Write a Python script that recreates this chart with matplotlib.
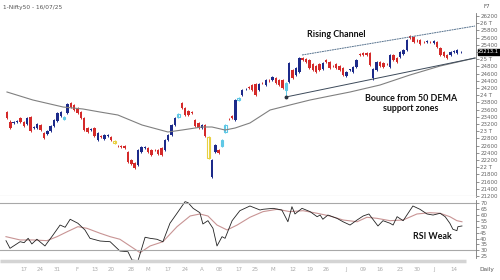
import matplotlib
matplotlib.use('Agg')
import matplotlib.pyplot as plt

# daily Nifty50 candles (open / high / low / close), oldest first
opens = [23530, 23260, 23230, 23260, 23370, 23260, 23200, 23390, 23090, 23090,
         23170, 22950, 22920, 23010, 23140, 23280, 23420, 23340, 23510, 23780,
         23730, 23640, 23530, 23370, 23090, 23030, 23090, 22760, 22870, 22780,
         22870, 22840, 22730, 22590, 22590, 22590, 22420, 22200, 22120, 22060,
         22420, 22530, 22530, 22480, 22480, 22480, 22530, 22480, 22760, 22890,
         23170, 23390, 23780, 23640, 23560, 23530, 23310, 23230, 23090, 23170,
         22840, 21730, 22420, 22480, 22590, 22980, 23340, 23420, 23310, 23870,
         24010, 24170, 24230, 24280, 24310, 24140, 24340, 24280, 24420, 24420,
         24480, 24420, 24420, 24140, 24370, 24700, 24560, 24640, 25030, 25010,
         24980, 24870, 24810, 24870, 24730, 24980, 24920, 24810, 24870, 24810,
         24760, 24530, 24700, 24640, 24780, 25140, 25170, 25170, 25170, 24480,
         24700, 24920, 24890, 24870, 24780, 25120, 25030, 25060, 25140, 25260,
         25640, 25620, 25530, 25530, 25480, 25480, 25480, 25450, 25480, 25310,
         25200, 25120, 25120, 25200, 25170, 25190]
closes = [23370, 23090, 23260, 23280, 23260, 23140, 23370, 23010, 23120, 23200,
          23030, 22810, 23010, 23140, 23310, 23510, 23530, 23390, 23760, 23670,
          23590, 23510, 23370, 23030, 22980, 23060, 22870, 22950, 22840, 22890,
          22880, 22760, 22670, 22580, 22560, 22530, 22140, 22090, 21980, 22480,
          22560, 22560, 22420, 22340, 22470, 22370, 22340, 22760, 22890, 23170,
          23370, 23480, 23640, 23450, 23450, 23510, 23140, 23090, 23170, 22870,
          22260, 22200, 22620, 22390, 22760, 23170, 23330, 23370, 23870, 23920,
          24140, 24180, 24200, 24140, 24010, 24310, 24330, 24420, 24410, 24510,
          24340, 24280, 24200, 24340, 24890, 24480, 24760, 25030, 24980, 24920,
          24760, 24700, 24640, 24700, 24890, 24920, 24760, 24800, 24760, 24700,
          24560, 24640, 24710, 24780, 24980, 25120, 25120, 25110, 24840, 24730,
          24920, 24810, 24780, 24860, 25120, 24980, 24920, 25200, 25260, 25530,
          25590, 25480, 25520, 25420, 25470, 25510, 25470, 25510, 25340, 25120,
          25090, 25030, 25200, 25220, 25250, 25213]
highs = [23560, 23300, 23290, 23310, 23400, 23290, 23400, 23420, 23150, 23230,
         23200, 22990, 23040, 23170, 23340, 23540, 23560, 23420, 23790, 23810,
         23760, 23670, 23560, 23400, 23120, 23090, 23120, 22980, 22900, 22920,
         22910, 22870, 22760, 22620, 22620, 22620, 22450, 22230, 22150, 22510,
         22590, 22590, 22560, 22510, 22510, 22510, 22560, 22790, 22920, 23200,
         23400, 23510, 23820, 23670, 23590, 23560, 23340, 23260, 23200, 23200,
         22870, 22230, 22650, 22510, 22790, 23200, 23370, 23450, 23900, 23950,
         24170, 24210, 24260, 24310, 24340, 24340, 24370, 24450, 24450, 24540,
         24510, 24450, 24450, 24370, 24920, 24730, 24790, 25060, 25060, 25040,
         25010, 24900, 24840, 24900, 24920, 25010, 24950, 24840, 24900, 24840,
         24790, 24670, 24740, 24810, 25010, 25170, 25200, 25200, 25200, 24760,
         24950, 24950, 24920, 24900, 25150, 25150, 25060, 25230, 25290, 25560,
         25670, 25650, 25560, 25560, 25510, 25540, 25510, 25540, 25510, 25340,
         25230, 25150, 25230, 25250, 25280, 25240]
lows = [23340, 23060, 23200, 23230, 23230, 23110, 23170, 22980, 23060, 23060,
        23000, 22780, 22890, 22980, 23110, 23250, 23390, 23310, 23480, 23640,
        23560, 23480, 23340, 23000, 22950, 23000, 22840, 22730, 22810, 22750,
        22840, 22730, 22640, 22550, 22530, 22500, 22110, 22060, 21950, 22030,
        22390, 22500, 22390, 22310, 22440, 22340, 22310, 22450, 22730, 22860,
        23140, 23360, 23610, 23420, 23420, 23480, 23110, 23060, 23060, 22840,
        22230, 21700, 22390, 22360, 22560, 22950, 23300, 23340, 23280, 23840,
        23980, 24140, 24170, 24110, 23980, 24110, 24300, 24250, 24380, 24390,
        24310, 24250, 24170, 23950, 24340, 24450, 24530, 24610, 24950, 24890,
        24730, 24670, 24610, 24670, 24700, 24890, 24730, 24770, 24730, 24670,
        24530, 24500, 24670, 24610, 24750, 25090, 25090, 25080, 24810, 24430,
        24670, 24780, 24750, 24830, 24750, 24950, 24890, 25030, 25110, 25230,
        25560, 25450, 25490, 25390, 25440, 25450, 25440, 25420, 25310, 25090,
        25060, 25000, 25090, 25180, 25140, 25160]
cyan_days = [17, 51, 64, 65, 69, 83]
yellow_days = [32, 60]
last_price = 25213.1

# 50 DEMA
dema_x = [0, 7.7, 16.7, 22.6, 27.7, 33, 40.2, 47.9, 52.1, 58, 61, 64.9, 67.9,
          72.3, 78.3, 84.2, 90.2, 96.1, 102.1, 111, 119.9, 128.9, 139.3]
dema_y = [24089, 23867, 23672, 23617, 23533, 23450, 23172, 22978, 23033, 23117,
          23117, 23033, 23089, 23228, 23589, 23728, 23867, 23978, 24089, 24283,
          24561, 24811, 25033]

# rising channel
chan_up_x = [87.8, 139.3]
chan_up_y = [25117, 25922]
chan_lo_x = [83, 139.3]
chan_lo_y = [23950, 25033]

# RSI and its average
rsi_x = [-0.3, 0.9, 3.9, 5.1, 6.3, 7.4, 8.9, 11.3, 13.7, 15.8, 17.3, 18.8, 21.1,
         23.2, 24.7, 27.7, 30.7, 33.6, 36.0, 37.2, 39.0, 41.1, 42.6, 44.6, 46.4,
         48.5, 50.6, 53.0, 53.9, 55.4, 57.4, 58.3, 59.8, 61.3, 62.5, 64.0, 64.9,
         67.0, 69.3, 72.3, 75.3, 76.2, 79.2, 81.8, 83.6, 84.8, 85.7, 87.8, 90.2,
         92.3, 93.2, 94.0, 95.5, 98.2, 100.0, 102.1, 104.2, 106.0, 107.7, 110.4,
         111.9, 114.0, 114.9, 116.1, 117.9, 120.8, 122.9, 125.0, 126.8, 128.9,
         130.4, 131.8, 132.7, 133.9, 134.2, 135.4]
rsi_v = [38.2, 31.7, 37.3, 36.5, 40.2, 35.4, 39.4, 33.7, 43, 51.5, 49.6, 56.4, 53,
         47.3, 40.2, 37.9, 37.3, 29.4, 28.8, 21.7, 21.2, 41.1, 40.2, 39.4, 37.3,
         53, 61.5, 71.4, 70.5, 65.7, 62, 52.4, 55.2, 48.7, 33.7, 41.6, 40.2,
         55.2, 63.7, 67.7, 64.3, 64.9, 65.7, 64.3, 54.3, 67.1, 60.9, 65.7, 62.9,
         58.6, 60, 56.4, 60, 57.2, 54.3, 51.5, 55.8, 59.2, 60.9, 50.7,
         55.2, 53, 51.5, 58.6, 55.2, 67.7, 64.9, 60.9, 60, 61.5,
         58.6, 53, 47.9, 46.7, 50.1, 50.7]
sig_x = [-0.3, 3.9, 7.7, 11.9, 14.9, 17.9, 21.1, 23.8, 27.7, 30.7, 33.6, 36.6,
         39.6, 42.6, 46.4, 50.6, 54.5, 57.4, 59.8, 62.5, 65.5, 68.5, 72.3, 76.2,
         80.4, 84.2, 88.1, 92.3, 96.1, 100, 104.2, 107.1, 110.1, 114, 117.9, 122,
         125.9, 128.9, 131.8, 133.9, 135.4]
sig_v = [41.6, 38.8, 38.8, 38.2, 41.6, 45.8, 50.1, 48.7, 44.5, 41.6, 39.4, 33.7,
         28, 33.7, 37.3, 50.1, 59.2, 60.9, 59.2, 51.5, 47.3, 51.5, 58.1, 62.9,
         64.9, 62.9, 63.7, 61.5, 59.2, 55.8, 54.3, 58.1, 57.2, 55.2, 55.8, 60.9,
         62, 61.5, 58.6, 55.2, 54.3]

date_pos = [5, 10, 15, 21, 26, 31, 37, 42, 48, 53, 58, 63, 69, 74, 79, 85, 90,
            95, 101, 106, 111, 117, 122, 127, 133]
date_labels = ['17', '24', '31', 'F', '13', '20', '28', 'M', '17', '24', 'A',
               '08', '17', '25', 'M', '12', '19', '26', 'J', '09', '16', '23',
               '30', 'J', '14']

price_ticks = list(range(21200, 26201, 200))
def price_label(p):
    if p == 25200:
        return ''
    if p % 1000 == 0:
        return '%d T' % (p // 1000)
    return str(p)

up_col = '#1c2a8a'
dn_col = '#d42a2a'
axis_col = '#777777'
xmin, xmax = -2.08, 139.58

fig = plt.figure(figsize=(5, 2.8), dpi=100)
ax = fig.add_axes([0, 1 - 196 / 280, 476 / 500, 186 / 280])
axr = fig.add_axes([0, 1 - 261 / 280, 476 / 500, 65 / 280])

# candles
for i in range(len(opens)):
    o, c = opens[i], closes[i]
    col = up_col if c >= o else dn_col
    body = max(abs(c - o), 16)
    bottom = min(o, c)
    if i in cyan_days or i in yellow_days:
        hl = '#5ec8e6' if i in cyan_days else '#e8d040'
        ax.vlines(i, lows[i], highs[i], color=hl, lw=0.7)
        ax.bar(i, body, bottom=bottom, width=0.8, facecolor='white',
               edgecolor=hl, linewidth=0.8)
    else:
        ax.vlines(i, lows[i], highs[i], color=col, lw=0.7)
        ax.bar(i, body, bottom=bottom, width=0.72, color=col, linewidth=0)

ax.plot(dema_x, dema_y, color='#808080', lw=0.8)
ax.plot(chan_up_x, chan_up_y, color='#5a7590', lw=0.7, linestyle=(0, (2, 0.6)))
ax.plot(chan_lo_x, chan_lo_y, color='#3c4a5a', lw=0.7)
ax.plot(chan_lo_x[0], chan_lo_y[0], 'o', color='#2a3440', ms=1.8)

ax.set_xlim(xmin, xmax)
ax.set_ylim(21200, 26367)
ax.yaxis.tick_right()
ax.set_yticks(price_ticks)
ax.set_yticklabels([price_label(p) for p in price_ticks])
ax.set_xticks([])
for s in ['top', 'left']:
    ax.spines[s].set_visible(False)
ax.spines['bottom'].set_color('#b0b0b0')
ax.spines['bottom'].set_linewidth(0.8)
ax.spines['right'].set_color(axis_col)
ax.spines['right'].set_linewidth(0.6)
ax.spines['right'].set_bounds(21180, 26270)
ax.tick_params(axis='y', direction='out', length=2, width=0.5, pad=1,
               colors='#666666', labelsize=4)

ax.annotate('%.1f' % last_price, xy=(1.0, last_price),
            xycoords=('axes fraction', 'data'), xytext=(1.5, 0),
            textcoords='offset points', va='center', ha='left',
            fontsize=3.7, color='white',
            bbox=dict(boxstyle='square,pad=0.1', fc='black', ec='black'))

bold = dict(family='Lato', fontweight='bold', color='#111111')
ax.text(98, 25700, 'Rising Channel', fontsize=6.4, ha='center', va='center', **bold)
ax.text(120.2, 23920, 'Bounce from 50 DEMA', fontsize=6.4, ha='center', va='center', **bold)
ax.text(120.2, 23620, 'support zones', fontsize=6.4, ha='center', va='center', **bold)

# RSI panel
axr.plot(sig_x, sig_v, color='#c89494', lw=0.8)
axr.plot(rsi_x, rsi_v, color='#222222', lw=0.6)
axr.axhline(70, color='#a8a8a8', lw=0.8)
axr.axhline(30, color='#a8a8a8', lw=0.8)
axr.set_xlim(xmin, xmax)
axr.set_ylim(20.9, 76.2)
axr.yaxis.tick_right()
axr.set_yticks([25, 30, 35, 40, 45, 50, 55, 60, 65, 70])
for s in ['top', 'left', 'bottom']:
    axr.spines[s].set_visible(False)
axr.spines['right'].set_color(axis_col)
axr.spines['right'].set_linewidth(0.6)
axr.spines['right'].set_bounds(23.5, 72.5)
axr.tick_params(axis='y', direction='out', length=2, width=0.5, pad=1,
                colors='#666666', labelsize=4)
axr.set_xticks(date_pos)
axr.set_xticklabels(date_labels)
axr.tick_params(axis='x', length=0, pad=4, colors='#aaaaaa', labelsize=4)
axr.plot([xmin, 136.5], [21.3, 21.3], color='#d4d4d4', lw=2.5,
         solid_capstyle='butt', clip_on=False)
axr.text(126.5, 42, 'RSI Weak', fontsize=6.4, ha='center', va='center', **bold)

fig.text(3 / 500, 1 - 7 / 280, '1-Nifty50 - 16/07/25', fontsize=4.2,
         color='#555555', va='center', ha='left')
fig.text(487 / 500, 1 - 7 / 280, 'F7', fontsize=4, color='#555555',
         va='center', ha='center')
fig.text(487 / 500, 1 - 270 / 280, 'Daily', fontsize=4.2, color='#555555',
         va='center', ha='center')

plt.savefig('out.png', dpi=100)
